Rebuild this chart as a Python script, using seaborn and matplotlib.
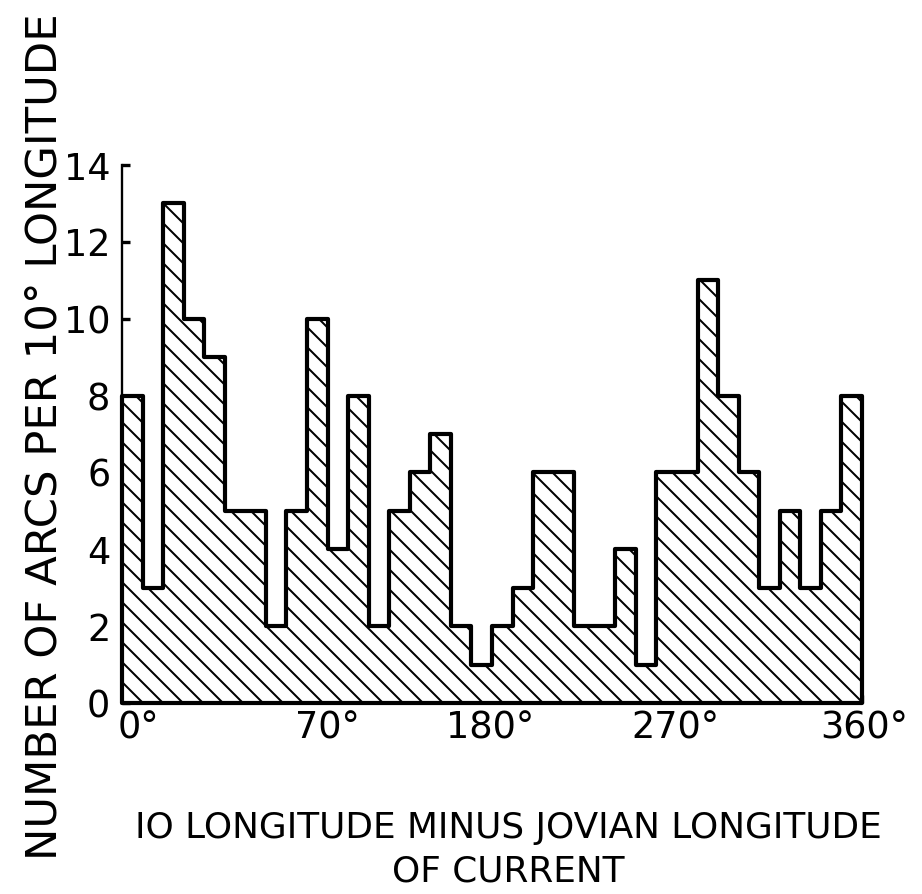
import numpy as np
import pandas as pd
import matplotlib
matplotlib.use("Agg")
import matplotlib.pyplot as plt
import matplotlib.transforms as mtransforms
import seaborn as sns

# ---- data ----
bin_edges = list(range(0, 361, 10))
counts = [8, 3, 13, 10, 9, 5, 5, 2, 5, 10, 4, 8, 2, 5, 6, 7, 2, 1,
          2, 3, 6, 6, 2, 2, 4, 1, 6, 6, 11, 8, 6, 3, 5, 3, 5, 8]
xtick_pos = [0, 90, 180, 270, 360]
xtick_labels = ["0°", "70°", "180°", "270°", "360°"]
xminor_pos = [30, 60, 120, 150, 210, 240, 300, 330]
ytick_pos = [0, 2, 4, 6, 8, 10, 12, 14]
ytick_labels = ["0", "2", "4", "6", "8", "10", "12", "14"]
xlabel_lines = ["IO LONGITUDE MINUS JOVIAN LONGITUDE", "OF CURRENT"]
ylabel = "NUMBER OF ARCS PER 10° LONGITUDE"

centers = [e + 5 for e in bin_edges[:-1]]
df = pd.DataFrame({"longitude": centers, "count": counts})

sns.set_style("ticks")
plt.rcParams["font.family"] = ["DejaVu Sans"]
plt.rcParams["hatch.linewidth"] = 1.2
plt.rcParams["text.color"] = "black"
plt.rcParams["xtick.color"] = "black"
plt.rcParams["ytick.color"] = "black"

DPI = 120
fig = plt.figure(figsize=(922 / DPI, 894 / DPI), dpi=DPI)
fig.patch.set_facecolor("white")
ax = fig.add_axes([122 / 922, 1 - 703 / 894, 740 / 922, 538 / 894])
ax.set_facecolor("white")

sns.histplot(data=df, x="longitude", weights="count", bins=bin_edges,
             element="step", fill=True, color="black", ax=ax)
for c in ax.collections:
    c.set_facecolor("white")
    c.set_edgecolor("black")
    c.set_alpha(1)
    c.set_hatch("\\\\")
    c.set_linewidth(2.5)
    c.set_clip_on(False)

ax.set_xlim(0, 360)
ax.set_ylim(0, 14)
for s in ["top", "right"]:
    ax.spines[s].set_visible(False)
for s in ["left", "bottom"]:
    ax.spines[s].set_linewidth(1.4)
    ax.spines[s].set_color("black")

ax.set_xticks(xtick_pos)
ax.set_xticklabels(xtick_labels)
ax.set_xticks(xminor_pos, minor=True)
ax.set_yticks(ytick_pos)
ax.set_yticklabels(ytick_labels)
ax.tick_params(axis="both", which="major", direction="in", length=5, width=2,
               labelsize=22, labelcolor="black")
ax.tick_params(axis="x", which="minor", direction="in", length=4, width=1.5)
ax.tick_params(axis="x", pad=4)
ax.tick_params(axis="y", pad=7)

# place x tick labels like the reference lettering (pixel offsets of left edge)
label_shift_px = [-4, -12, -46, -46, -42]
for lbl, shift in zip(ax.get_xticklabels(), label_shift_px):
    lbl.set_horizontalalignment("left")
    lbl.set_transform(lbl.get_transform() +
                      mtransforms.ScaledTranslation(shift / DPI, 0, fig.dpi_scale_trans))
ax.set_xlabel("")
ax.set_ylabel("")

fig.text(508 / 922, 1 - 828 / 894, xlabel_lines[0], ha="center", va="center",
         fontsize=21.5)
fig.text(508 / 922, 1 - 871 / 894, xlabel_lines[1], ha="center", va="center",
         fontsize=21.5)
fig.text(45 / 922, 1 - 437 / 894, ylabel, ha="center", va="center",
         rotation=90, fontsize=26)

fig.savefig("out.png", dpi=DPI, facecolor="white")
